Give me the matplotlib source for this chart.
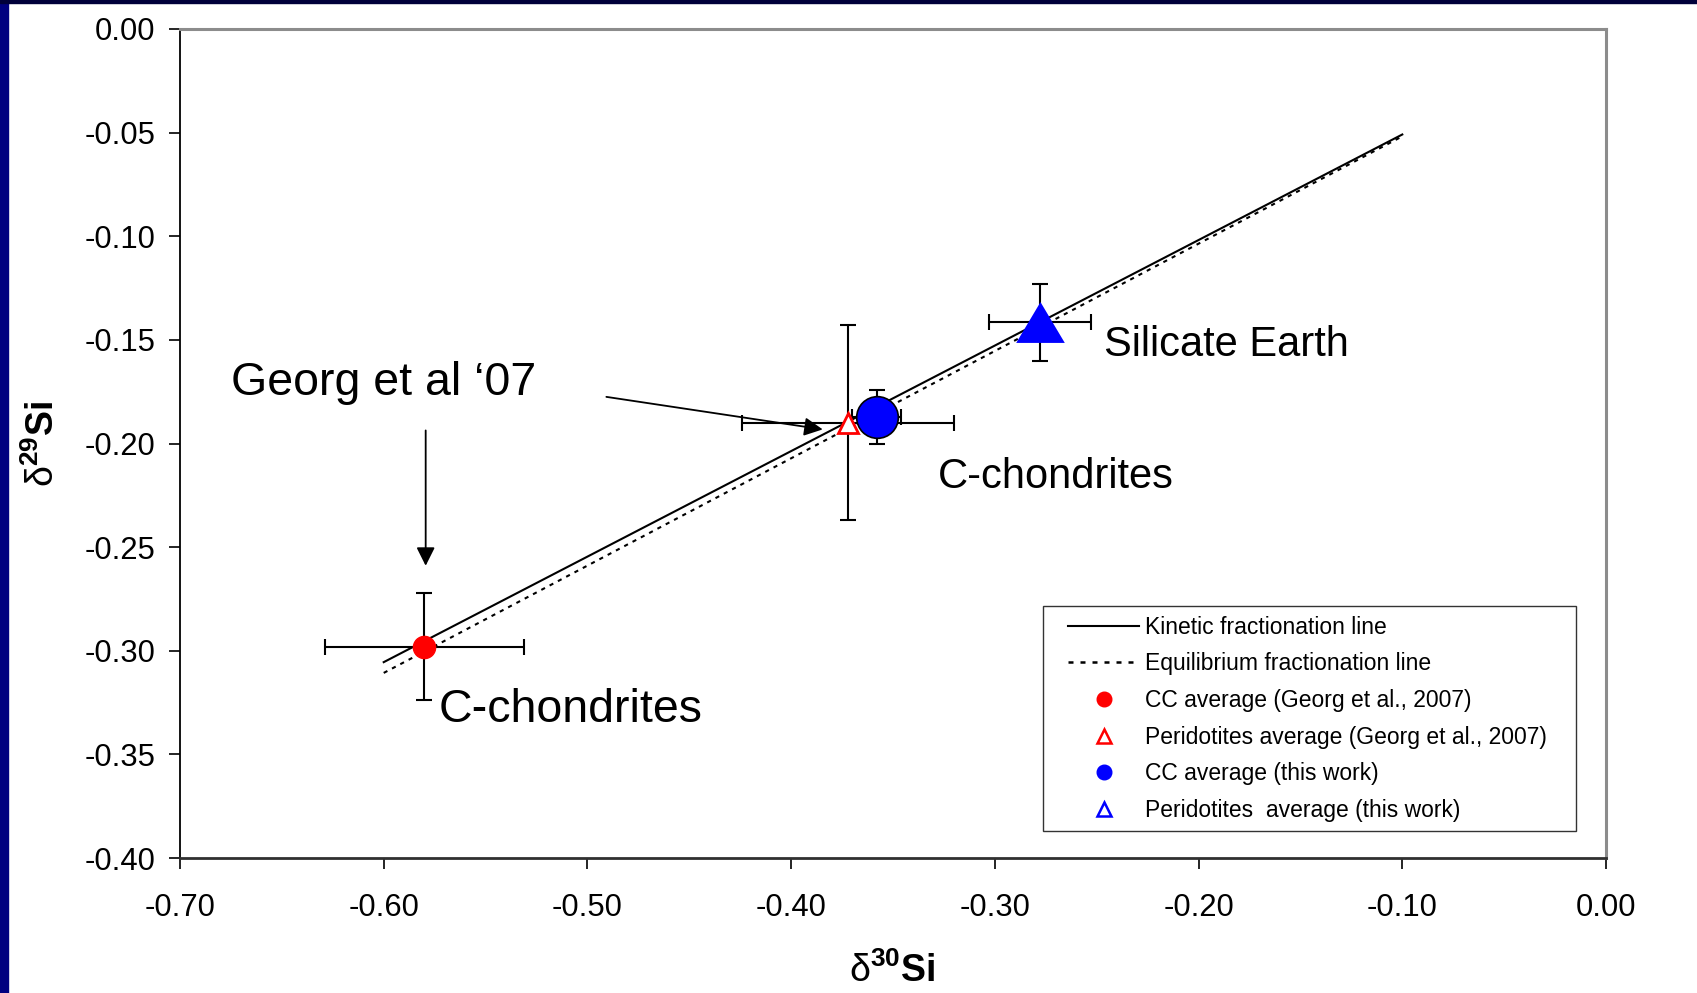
import matplotlib
matplotlib.use("Agg")
import matplotlib.pyplot as plt
from matplotlib.patches import Rectangle
from matplotlib.lines import Line2D
from matplotlib.path import Path
from matplotlib.legend_handler import HandlerLine2D
import numpy as np

plt.rcParams['font.family'] = ['Liberation Sans', 'DejaVu Sans']
plt.rcParams['axes.unicode_minus'] = False
plt.rcParams['mathtext.fontset'] = 'custom'
plt.rcParams['mathtext.rm'] = 'Liberation Sans'
plt.rcParams['mathtext.bf'] = 'Liberation Sans:bold'

# ---- data ----
line_x = [-0.60, -0.10]
kinetic_y = [-0.3055, -0.0509]
equilibrium_y = [-0.3107, -0.0518]

cc_georg = (-0.580, -0.298)
cc_georg_err = (0.049, 0.026)
perid_georg = (-0.372, -0.190)
perid_georg_err = (0.052, 0.047)
cc_this = (-0.358, -0.187)
cc_this_err = (0.012, 0.013)
perid_this = (-0.278, -0.1415)
perid_this_err = (0.025, 0.0185)

x_ticks = [-0.70, -0.60, -0.50, -0.40, -0.30, -0.20, -0.10, 0.00]
y_ticks = [-0.40, -0.35, -0.30, -0.25, -0.20, -0.15, -0.10, -0.05, 0.00]

legend_labels = ["Kinetic fractionation line", "Equilibrium fractionation line",
                 "CC average (Georg et al., 2007)", "Peridotites average (Georg et al., 2007)",
                 "CC average (this work)", "Peridotites  average (this work)"]

fig = plt.figure(figsize=(16.97, 9.93), dpi=100)
fig.patch.set_facecolor('white')
# navy slide border
fig.patches.append(Rectangle((0, 0), 8 / 1697, 1, transform=fig.transFigure, color='#000080', zorder=10))
fig.patches.append(Rectangle((0, 1 - 3 / 993), 1, 3 / 993, transform=fig.transFigure, color='#00003a', zorder=10))

ax = fig.add_axes([180 / 1697, 1 - 858 / 993, (1606 - 180) / 1697, (858 - 29) / 993])
ax.set_xlim(-0.70, 0.0)
ax.set_ylim(-0.40, 0.0)

ax.plot(line_x, kinetic_y, color='black', lw=1.5, zorder=2)
ax.plot(line_x, equilibrium_y, color='black', lw=1.5, linestyle=(0, (2, 2.5)), zorder=2)

ekw = dict(fmt='none', ecolor='black', elinewidth=1.5, capsize=6, capthick=1.5, zorder=3)
for (px, py), (ex, ey) in [(cc_georg, cc_georg_err), (perid_georg, perid_georg_err),
                           (cc_this, cc_this_err), (perid_this, perid_this_err)]:
    ax.errorbar([px], [py], xerr=[ex], yerr=[ey], **ekw)

tri = Path([(-1, -0.84), (1, -0.84), (0, 0.84), (-1, -0.84)],
           [Path.MOVETO, Path.LINETO, Path.LINETO, Path.CLOSEPOLY])

ax.plot([cc_georg[0]], [cc_georg[1]], 'o', ms=16, mfc='#ff0000', mec='#ff0000', zorder=5)
ax.plot([perid_georg[0]], [perid_georg[1]], '^', ms=15, mfc='white', mec='#ff0000', mew=2, zorder=5)
ax.plot([cc_this[0]], [cc_this[1]], 'o', ms=30, mfc='#0000ff', mec='black', mew=1.2, zorder=5)
ax.plot([perid_this[0]], [perid_this[1]], marker=tri, ms=35, mfc='#0000ff', mec='#0000ff', mew=0, ls='none', zorder=5)

# annotations
akw = dict(arrowstyle='-|>', color='black', lw=1.3, mutation_scale=28, shrinkA=0, shrinkB=0)
ax.annotate('', xy=(-0.3845, -0.1932), xytext=(-0.4907, -0.1775), arrowprops=akw, zorder=4)
ax.annotate('', xy=(-0.5794, -0.2590), xytext=(-0.5794, -0.1937), arrowprops=akw, zorder=4)

ax.text(-0.675, -0.1765, 'Georg et al \u201807', fontsize=33.5, ha='left', va='baseline')
ax.text(-0.2464, -0.1504, 'Silicate Earth', fontsize=30, ha='left', va='center_baseline')
ax.text(-0.3282, -0.2141, 'C-chondrites', fontsize=30, ha='left', va='center_baseline')
ax.text(-0.573, -0.3264, 'C-chondrites', fontsize=33.5, ha='left', va='center_baseline')

# ticks & spines
ax.set_xticks(x_ticks)
ax.set_xticklabels([f"{v:.2f}" for v in x_ticks])
ax.set_yticks(y_ticks)
ax.set_yticklabels([f"{v:.2f}" for v in y_ticks])
ax.tick_params(axis='both', direction='out', length=8, width=1.2, labelsize=22.3)
ax.tick_params(axis='y', pad=10)
ax.tick_params(axis='x', pad=17)
ax.spines['top'].set_color('#8c8c8c')
ax.spines['right'].set_color('#8c8c8c')
ax.spines['top'].set_linewidth(2.2)
ax.spines['right'].set_linewidth(2.2)
ax.spines['left'].set_color('black')
ax.spines['left'].set_linewidth(1.3)
ax.spines['bottom'].set_color('#303030')
ax.spines['bottom'].set_linewidth(2.0)

fig.text(892 / 1697, 1 - 971 / 993, r'$\mathrm{\delta}^{\mathbf{30}}\mathbf{Si}$', fontsize=27,
         ha='center', va='center')
fig.text(43 / 1697, 1 - 444 / 993, r'$\mathrm{\delta}^{\mathbf{29}}\mathbf{Si}$', fontsize=27,
         ha='center', va='center', rotation=90)

# legend
handles = [
    Line2D([], [], color='black', lw=1.5),
    Line2D([], [], color='black', lw=1.8, linestyle=(0, (2, 2.8))),
    Line2D([], [], ls='none', marker='o', ms=10.5, mfc='#ff0000', mec='#ff0000'),
    Line2D([], [], ls='none', marker='^', ms=10, mfc='white', mec='#ff0000', mew=1.8),
    Line2D([], [], ls='none', marker='o', ms=10.5, mfc='#0000ff', mec='#0000ff'),
    Line2D([], [], ls='none', marker='^', ms=10, mfc='white', mec='#0000ff', mew=1.8),
]
hmap = {h: HandlerLine2D(xpad=0.72) for h in handles}
leg = ax.legend(handles, legend_labels, loc='lower left',
                bbox_to_anchor=(0.605, 0.0326, 0.374, 0.267), mode='expand',
                fontsize=16.5, frameon=True, fancybox=False, shadow=False,
                borderpad=0.4, labelspacing=0.595, handlelength=3.82, handletextpad=0.24,
                borderaxespad=0, handler_map=hmap)
leg.get_frame().set_edgecolor('black')
leg.get_frame().set_linewidth(1.0)
leg.set_zorder(6)

fig.savefig('out.png', dpi=100)
